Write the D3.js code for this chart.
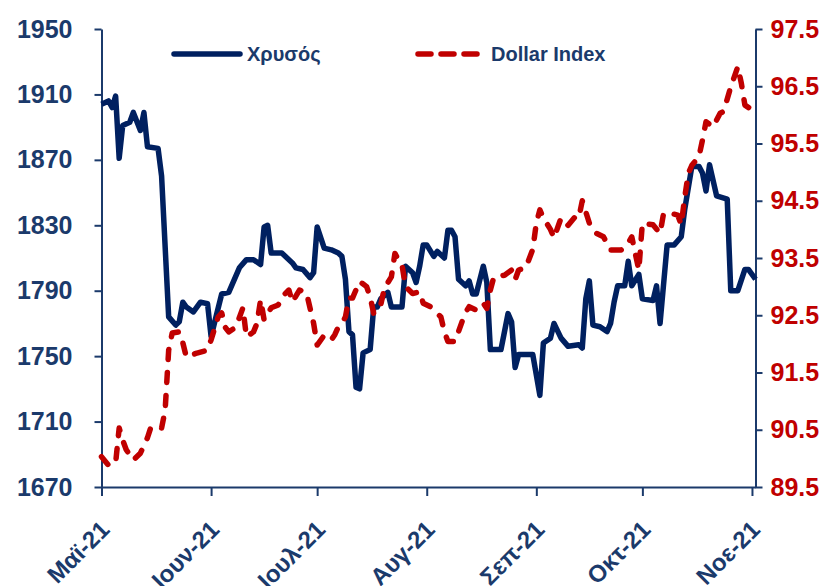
<!DOCTYPE html>
<html>
<head>
<meta charset="utf-8">
<script src="https://cdn.jsdelivr.net/npm/d3@7"></script>
<style>
  body { margin: 0; background: #fff; }
  svg { display: block; font-family: "Liberation Sans", Arial, sans-serif; font-weight: bold; }
</style>
</head>
<body>
<svg width="839" height="586"></svg>
<script>
// Gold (left axis)
const goldDates = [
  '2021-05-01', '2021-05-03', '2021-05-04', '2021-05-05', '2021-05-06', '2021-05-07', '2021-05-09', '2021-05-10',
  '2021-05-12', '2021-05-13', '2021-05-14', '2021-05-17', '2021-05-18', '2021-05-20', '2021-05-22', '2021-05-23',
  '2021-05-24', '2021-05-25', '2021-05-27', '2021-05-29', '2021-05-31', '2021-06-01', '2021-06-04', '2021-06-06',
  '2021-06-09', '2021-06-11', '2021-06-13', '2021-06-15', '2021-06-16', '2021-06-17', '2021-06-18', '2021-06-21',
  '2021-06-24', '2021-06-25', '2021-06-27', '2021-06-29', '2021-06-30', '2021-07-01', '2021-07-03', '2021-07-05',
  '2021-07-07', '2021-07-08', '2021-07-09', '2021-07-10', '2021-07-11', '2021-07-12', '2021-07-13', '2021-07-14',
  '2021-07-16', '2021-07-17', '2021-07-18', '2021-07-19', '2021-07-21', '2021-07-22', '2021-07-25', '2021-07-26',
  '2021-07-28', '2021-07-29', '2021-07-30', '2021-07-31', '2021-08-01', '2021-08-03', '2021-08-04', '2021-08-06',
  '2021-08-07', '2021-08-08', '2021-08-09', '2021-08-10', '2021-08-12', '2021-08-13', '2021-08-14', '2021-08-15',
  '2021-08-17', '2021-08-18', '2021-08-19', '2021-08-22', '2021-08-24', '2021-08-25', '2021-08-26', '2021-08-27',
  '2021-08-31', '2021-09-02', '2021-09-03', '2021-09-05', '2021-09-06', '2021-09-08', '2021-09-10', '2021-09-13',
  '2021-09-14', '2021-09-15', '2021-09-16', '2021-09-17', '2021-09-19', '2021-09-21', '2021-09-22', '2021-09-23',
  '2021-09-24', '2021-09-26', '2021-09-27', '2021-09-28', '2021-09-30', '2021-10-01', '2021-10-04', '2021-10-05',
  '2021-10-06', '2021-10-08', '2021-10-10', '2021-10-12', '2021-10-13', '2021-10-15', '2021-10-17', '2021-10-18',
  '2021-10-19', '2021-10-20', '2021-10-22', '2021-10-25', '2021-10-26', '2021-10-28', '2021-10-30', '2021-10-31',
  '2021-11-02'
];
const goldValues = [
  1904, 1906, 1902, 1909, 1871, 1891, 1893, 1899,
  1888, 1899, 1878, 1877, 1860, 1774, 1769, 1771,
  1783, 1780, 1777, 1783, 1782, 1762, 1788, 1789,
  1804, 1809, 1809, 1806, 1829, 1830, 1813, 1813,
  1807, 1804, 1803, 1798, 1801, 1829, 1816, 1815,
  1813, 1811, 1797, 1765, 1763, 1731, 1730, 1752,
  1754, 1780, 1780, 1785, 1789, 1780, 1780, 1805,
  1801, 1795, 1805, 1818, 1818, 1811, 1814, 1810,
  1827, 1827, 1823, 1797, 1793, 1796, 1788, 1788,
  1805, 1795, 1754, 1754, 1776, 1771, 1743, 1751,
  1751, 1726, 1758, 1761, 1770, 1761, 1756, 1757,
  1755, 1785, 1796, 1769, 1768, 1765, 1770, 1783,
  1793, 1793, 1808, 1793, 1800, 1785, 1784, 1793,
  1770, 1818, 1818, 1823, 1840, 1866, 1866, 1862,
  1851, 1867, 1848, 1846, 1790, 1790, 1803, 1803,
  1797
];

// Dollar Index (right axis)
const dxyDates = [
  '2021-05-01', '2021-05-03', '2021-05-05', '2021-05-06', '2021-05-07', '2021-05-08', '2021-05-10', '2021-05-12',
  '2021-05-14', '2021-05-15', '2021-05-18', '2021-05-19', '2021-05-20', '2021-05-21', '2021-05-23', '2021-05-24',
  '2021-05-25', '2021-05-28', '2021-05-31', '2021-06-01', '2021-06-03', '2021-06-04', '2021-06-05', '2021-06-06',
  '2021-06-08', '2021-06-10', '2021-06-11', '2021-06-13', '2021-06-14', '2021-06-15', '2021-06-16', '2021-06-18',
  '2021-06-20', '2021-06-21', '2021-06-23', '2021-06-24', '2021-06-26', '2021-06-28', '2021-06-30', '2021-07-01',
  '2021-07-03', '2021-07-05', '2021-07-06', '2021-07-07', '2021-07-08', '2021-07-09', '2021-07-10', '2021-07-11',
  '2021-07-13', '2021-07-15', '2021-07-16', '2021-07-17', '2021-07-19', '2021-07-20', '2021-07-22', '2021-07-23',
  '2021-07-24', '2021-07-25', '2021-07-26', '2021-07-28', '2021-07-30', '2021-07-31', '2021-08-02', '2021-08-05',
  '2021-08-06', '2021-08-07', '2021-08-09', '2021-08-11', '2021-08-12', '2021-08-13', '2021-08-15', '2021-08-17',
  '2021-08-18', '2021-08-19', '2021-08-20', '2021-08-23', '2021-08-25', '2021-08-26', '2021-08-27', '2021-08-29',
  '2021-08-31', '2021-09-01', '2021-09-02', '2021-09-03', '2021-09-05', '2021-09-06', '2021-09-08', '2021-09-10',
  '2021-09-12', '2021-09-13', '2021-09-14', '2021-09-16', '2021-09-18', '2021-09-20', '2021-09-22', '2021-09-25',
  '2021-09-27', '2021-09-28', '2021-09-30', '2021-10-01', '2021-10-04', '2021-10-06', '2021-10-07', '2021-10-09',
  '2021-10-11', '2021-10-12', '2021-10-13', '2021-10-14', '2021-10-15', '2021-10-17', '2021-10-18', '2021-10-19',
  '2021-10-21', '2021-10-22', '2021-10-23', '2021-10-24', '2021-10-26', '2021-10-28', '2021-10-29', '2021-10-30',
  '2021-11-01', '2021-11-02'
];
const dxyValues = [
  90.03, 89.88, 89.92, 90.53, 90.32, 90.15, 89.97, 90.09,
  90.36, 90.55, 90.53, 90.84, 91.89, 92.19, 92.21, 92.02,
  91.77, 91.84, 91.89, 92.07, 92.47, 92.54, 92.29, 92.21,
  92.29, 92.63, 92.12, 92.21, 92.36, 92.77, 92.42, 92.63,
  92.68, 92.82, 92.94, 92.73, 92.94, 92.89, 92.36, 91.98,
  92.15, 92.07, 92.16, 92.30, 92.36, 92.47, 92.80, 92.80,
  93.09, 93.00, 92.82, 92.53, 92.68, 92.97, 93.17, 93.58,
  93.47, 93.38, 93.00, 92.88, 92.91, 92.71, 92.65, 92.47,
  92.21, 92.04, 92.04, 92.39, 92.55, 92.65, 92.59, 92.71,
  92.62, 92.94, 93.17, 93.20, 93.29, 93.12, 93.29, 93.33,
  93.65, 94.11, 94.34, 94.20, 94.00, 93.85, 94.20, 94.07,
  94.22, 94.20, 94.50, 94.11, 93.93, 93.87, 93.64, 93.64,
  93.76, 93.87, 93.29, 94.11, 94.08, 93.93, 94.28, 94.28,
  94.25, 94.08, 94.57, 94.98, 95.12, 95.27, 95.56, 95.88,
  95.79, 95.91, 96.03, 96.06, 96.49, 96.84, 96.55, 96.17,
  96.09, 96.23
];

const leftTicks = [1670, 1710, 1750, 1790, 1830, 1870, 1910, 1950];
const rightTicks = [89.5, 90.5, 91.5, 92.5, 93.5, 94.5, 95.5, 96.5, 97.5];
const monthLabels = ['Μαϊ-21', 'Ιουν-21', 'Ιουλ-21', 'Αυγ-21', 'Σεπ-21', 'Οκτ-21', 'Νοε-21'];
const seriesNames = ['Χρυσός', 'Dollar Index'];

const navy = '#002060';
const textNavy = '#1b3a6b';
const red = '#c00000';

const parse = d3.timeParse('%Y-%m-%d');
const gold = goldDates.map((d, i) => ({ date: parse(d), value: goldValues[i] }));
const dxy = dxyDates.map((d, i) => ({ date: parse(d), value: dxyValues[i] }));

const svg = d3.select('svg');
const plotLeft = 101.5;
const plotRight = 755.5;
const plotTop = 29;
const plotBottom = 487;

const x = d3.scaleTime()
  .domain([parse('2021-05-01'), parse('2021-11-02')])
  .range([plotLeft, plotRight]);
const yL = d3.scaleLinear().domain([1670, 1950]).range([plotBottom, plotTop]);
const yR = d3.scaleLinear().domain([89.5, 97.5]).range([plotBottom, plotTop]);

// axes
function styleAxis(g, color, size) {
  g.select('.domain').attr('stroke', textNavy).attr('stroke-width', 2);
  g.selectAll('.tick line').attr('stroke', textNavy).attr('stroke-width', 2);
  g.selectAll('.tick text')
    .attr('fill', color)
    .style('font-size', size + 'px')
    .style('font-weight', 'bold');
}

svg.append('g')
  .attr('transform', `translate(${plotLeft},0)`)
  .call(d3.axisLeft(yL).tickValues(leftTicks).tickFormat(d3.format('d')).tickSize(7).tickSizeOuter(0).tickPadding(22))
  .call(g => styleAxis(g, textNavy, 25));

svg.append('g')
  .attr('transform', `translate(${plotRight},0)`)
  .call(d3.axisRight(yR).tickValues(rightTicks).tickFormat(d3.format('.1f')).tickSize(7).tickSizeOuter(0).tickPadding(8))
  .call(g => styleAxis(g, red, 25));

const monthTicks = d3.timeMonth.range(parse('2021-05-01'), parse('2021-11-02'));
const xAxis = svg.append('g')
  .attr('transform', `translate(0,${plotBottom})`)
  .call(d3.axisBottom(x).tickValues(monthTicks).tickFormat((d, i) => monthLabels[i]).tickSize(9).tickSizeOuter(0))
  .call(g => styleAxis(g, textNavy, 24));
xAxis.selectAll('.tick text')
  .attr('x', 0).attr('y', 0).attr('dy', 0)
  .attr('text-anchor', 'end')
  .attr('transform', 'translate(9,44) rotate(-45)');

// lines
const goldLine = d3.line().x(d => x(d.date)).y(d => yL(d.value));
const dxyLine = d3.line().x(d => x(d.date)).y(d => yR(d.value));

svg.append('path')
  .datum(gold)
  .attr('d', goldLine)
  .attr('fill', 'none')
  .attr('stroke', navy)
  .attr('stroke-width', 5.5)
  .attr('stroke-linejoin', 'round');

svg.append('path')
  .datum(dxy)
  .attr('d', dxyLine)
  .attr('fill', 'none')
  .attr('stroke', red)
  .attr('stroke-width', 5.5)
  .attr('stroke-linejoin', 'round')
  .attr('stroke-linecap', 'round')
  .attr('stroke-dasharray', '10,13');

// legend
const legend = svg.append('g');
legend.append('line')
  .attr('x1', 174).attr('x2', 240).attr('y1', 54).attr('y2', 54)
  .attr('stroke', navy).attr('stroke-width', 5.5).attr('stroke-linecap', 'round');
legend.append('text')
  .attr('x', 247).attr('y', 61)
  .attr('fill', textNavy).style('font-size', '20px')
  .text(seriesNames[0]);
legend.append('line')
  .attr('x1', 418).attr('x2', 478).attr('y1', 54).attr('y2', 54)
  .attr('stroke', red).attr('stroke-width', 5.5).attr('stroke-linecap', 'round')
  .attr('stroke-dasharray', '13,10');
legend.append('text')
  .attr('x', 491).attr('y', 61)
  .attr('fill', textNavy).style('font-size', '20px')
  .text(seriesNames[1]);
</script>
</body>
</html>
